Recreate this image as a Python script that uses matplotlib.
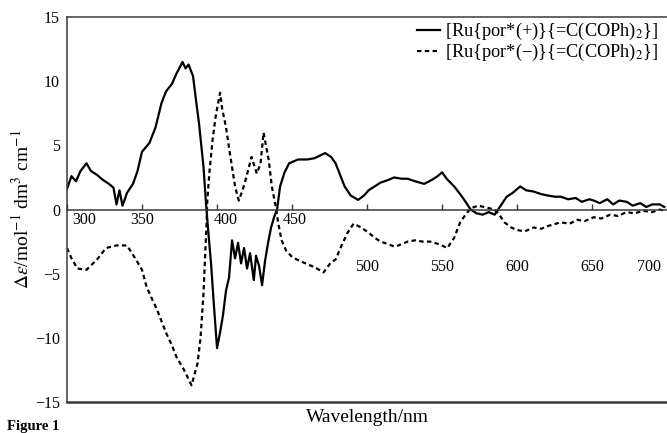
import matplotlib
matplotlib.use('Agg')
import matplotlib.pyplot as plt
import matplotlib.transforms as mtransforms

# CD spectra of the two enantiomeric carbene complexes
# values (wavelength [nm], delta epsilon)

wl_plus = [300, 303, 306, 309, 313, 316, 320, 324, 328, 331, 333, 335, 337,
           340, 344, 347, 350, 355, 359, 363, 366, 370, 373, 377, 379, 381,
           384, 386, 388, 391, 392.5, 394, 396, 398, 400, 402, 404, 406, 408,
           410, 412, 414, 416, 418, 420, 422, 424.5, 426, 428, 430, 432, 434,
           436, 438, 440, 442, 445, 448, 454, 460, 465, 472, 476, 479, 482,
           485, 489, 494, 498, 501, 505, 509, 514, 518, 523, 527, 532, 538,
           543, 547, 550, 553, 558, 562, 565, 569, 573, 577, 581, 585, 589,
           593, 597, 602, 606, 611, 616, 620, 625, 629, 634, 639, 643, 648,
           651, 655, 660, 664, 668, 673, 677, 682, 686, 690, 695, 698]
de_plus = [1.6, 2.6, 2.2, 3.0, 3.6, 3.0, 2.7, 2.3, 2.0, 1.7, 0.4, 1.5, 0.3,
           1.3, 2.0, 3.0, 4.5, 5.2, 6.4, 8.3, 9.2, 9.8, 10.6, 11.5, 11.0,
           11.3, 10.4, 8.5, 6.7, 3.3, 0.7, -1.5, -4.2, -7.6, -10.8, -9.6,
           -8.2, -6.3, -5.3, -2.4, -3.8, -2.6, -4.2, -3.0, -4.6, -3.4, -5.5,
           -3.6, -4.4, -5.9, -4.0, -2.6, -1.4, -0.6, 0.0, 1.8, 2.9, 3.6, 3.9,
           3.9, 4.0, 4.4, 4.1, 3.6, 2.7, 1.8, 1.1, 0.75, 1.1, 1.5, 1.8, 2.1,
           2.3, 2.5, 2.4, 2.4, 2.2, 2.0, 2.3, 2.6, 2.9, 2.4, 1.8, 1.2, 0.7,
           0.0, -0.3, -0.4, -0.2, -0.4, 0.3, 1.0, 1.3, 1.8, 1.5, 1.4, 1.2, 1.1,
           1.0, 1.0, 0.8, 0.9, 0.6, 0.8, 0.7, 0.5, 0.8, 0.4, 0.7, 0.6, 0.3,
           0.5, 0.2, 0.4, 0.4, 0.2]

wl_minus = [300, 303, 307, 313, 320, 326, 333, 340, 346, 350, 353, 356, 360,
            363, 366, 370, 373, 378, 383, 387, 389, 391, 393, 393.5, 395, 397,
            399, 402, 403.5, 406, 408, 410, 412, 414.5, 417, 419, 423, 426.5,
            429, 431, 434.5, 436.5, 439, 441, 443, 446, 450, 455, 459, 465,
            471, 476, 479, 483, 487, 491, 496, 501, 505, 509, 514, 518.5, 523,
            527, 532, 537, 542, 548, 553.5, 558, 562, 565, 569, 574, 578, 585,
            588, 591.5, 596, 600, 605, 611, 616, 620, 629, 635, 640, 645, 651,
            656, 662, 667, 673, 678, 684, 690, 695, 698]
de_minus = [-3.0, -3.8, -4.6, -4.7, -3.9, -3.0, -2.8, -2.8, -3.9, -4.7, -6.0,
            -6.8, -7.8, -8.7, -9.6, -10.6, -11.5, -12.5, -13.7, -12.0, -10.0,
            -6.5, -1.1, 0.7, 3.0, 5.4, 7.2, 9.1, 7.8, 6.4, 4.8, 3.3, 1.8, 0.7,
            1.5, 2.3, 4.1, 2.8, 3.6, 6.0, 3.8, 1.8, 0.3, -1.2, -2.4, -3.2,
            -3.7, -4.0, -4.2, -4.5, -4.9, -4.1, -3.9, -2.8, -1.8, -1.1, -1.4,
            -1.8, -2.2, -2.5, -2.7, -2.9, -2.7, -2.5, -2.4, -2.5, -2.5, -2.7,
            -3.0, -2.2, -1.0, -0.5, 0.1, 0.3, 0.2, 0.0, -0.4, -1.0, -1.4, -1.6,
            -1.7, -1.4, -1.5, -1.3, -1.0, -1.1, -0.8, -0.9, -0.6, -0.7, -0.4,
            -0.5, -0.2, -0.3, -0.1, -0.2, 0.0, -0.1]

x_ticks = [300, 350, 400, 450, 500, 550, 600, 650, 700]
y_ticks = [-15, -10, -5, 0, 5, 10, 15]
lbl_plus = r'[Ru{por*(+)}{=C(COPh)$_2$}]'
lbl_minus = r'[Ru{por*(−)}{=C(COPh)$_2$}]'

plt.rcParams['font.family'] = ['Liberation Serif', 'DejaVu Serif']
plt.rcParams['mathtext.fontset'] = 'stix'

fig = plt.figure(figsize=(6.67, 4.33), dpi=100)
ax = fig.add_axes([0.1004, 0.0716, 0.9, 0.889])

ax.plot(wl_plus, de_plus, color='black', lw=1.6, label=lbl_plus)
ax.plot(wl_minus, de_minus, color='black', lw=1.6, ls=(0, (2, 1.5)),
        label=lbl_minus)

ax.set_xlim(300, 697)
ax.set_ylim(-15, 15)

# frame: x axis drawn through zero, extra line at the bottom
frame_col = '#3a3a3a'
ax.spines['bottom'].set_position(('data', 0))
ax.spines['right'].set_visible(False)
for s in ['bottom', 'top', 'left']:
    ax.spines[s].set_color(frame_col)
    ax.spines[s].set_linewidth(1.1)
ax.axhline(-15, color=frame_col, lw=1.8, clip_on=False)

ax.set_xticks(x_ticks)
ax.set_yticks(y_ticks)
ax.set_yticklabels([str(v).replace('-', '−') for v in y_ticks])
ax.tick_params(axis='x', direction='in', length=4, width=1, color=frame_col,
               labelsize=11.5, pad=2)
ax.tick_params(axis='y', length=0, labelsize=11.5, pad=5)

# shift tick labels like in the original figure
shifts = {300: (0.17, 0), 400: (0.09, 0), 450: (0.03, 0), 700: (-0.18, 0)}
for v, lab in zip(x_ticks, ax.get_xticklabels()):
    dx, dy = shifts.get(v, (0, 0))
    if v >= 500:
        dy = -0.47
    off = mtransforms.ScaledTranslation(dx, dy, fig.dpi_scale_trans)
    lab.set_transform(lab.get_transform() + off)

ax.set_xlabel('Wavelength/nm', fontsize=14)
ax.xaxis.set_label_coords(0.5, -0.018)
ax.set_ylabel(r'$\Delta\varepsilon$/mol$^{-1}$ dm$^3$ cm$^{-1}$', fontsize=14)
ax.yaxis.set_label_coords(-0.057, 0.5)

ax.legend(loc='upper right', bbox_to_anchor=(0.985, 0.99), frameon=False,
          fontsize=13.2, handlelength=1.25, handletextpad=0.3, borderpad=0,
          borderaxespad=0, labelspacing=0.0)

fig.text(0.01, 0.0, 'Figure 1', fontsize=10.5, fontweight='bold',
         va='bottom')

fig.savefig('out.png', dpi=100)
